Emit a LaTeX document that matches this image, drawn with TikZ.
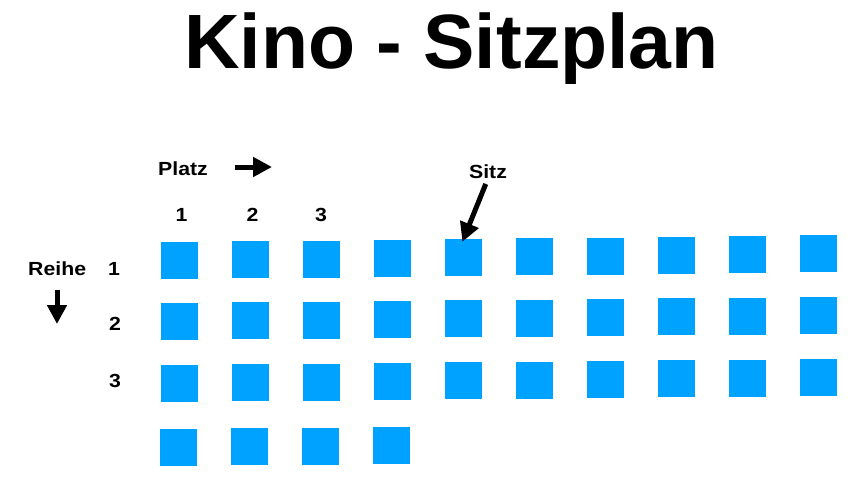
\documentclass[tikz,border=0pt]{standalone}
\usepackage{fontspec}
\setmainfont{Liberation Sans}
\newfontfamily\lblfont[FakeStretch=1.12]{Liberation Sans}
\usetikzlibrary{arrows.meta}
\definecolor{seatblue}{RGB}{0,162,255}
\tikzset{
  seat/.style={fill=seatblue, minimum size=37pt, inner sep=0pt, outer sep=0pt},
  lbl/.style={font=\lblfont\fontsize{19}{22}\selectfont\bfseries, inner sep=0pt, anchor=base},
  bigarrow/.style={line width=5pt, -{Triangle[length=19pt,width=19pt]}},
}
\begin{document}
\begin{tikzpicture}[x=1pt,y=-1pt]
\useasboundingbox (0,0) rectangle (864,498);
% title
\node[font=\fontsize{77}{90}\selectfont\bfseries, inner sep=0pt, anchor=base] (title) at (451.5,68) {Kino - Sitzplan};
% seats
\foreach \c in {1,...,10}{
  \node[seat] (s1-\c) at ({179.5+71*(\c-1)},{260.5-0.75*(\c-1)}) {};
  \node[seat] (s2-\c) at ({179+71*(\c-1)},{321.5-0.68*(\c-1)}) {};
  \node[seat] (s3-\c) at ({179.7+71*(\c-1)},{383.5-0.68*(\c-1)}) {};
}
\foreach \c in {1,...,4}{
  \node[seat] (s4-\c) at ({178.5+71*(\c-1)},{447.5-0.67*(\c-1)}) {};
}
% labels
\node[lbl, anchor=base west] (platz) at (158,175) {Platz};
\coordinate (pa1) at (235,167);
\coordinate (pa2) at (272,167);
\draw[bigarrow] (pa1) -- (pa2);
\node[lbl] (p1) at (181.5,221) {1};
\node[lbl] (p2) at (252.5,221) {2};
\node[lbl] (p3) at (321,221) {3};
\node[lbl, anchor=base west] (reihe) at (28,275) {Reihe};
\coordinate (ra1) at (57,290);
\coordinate (ra2) at (57,324);
\draw[bigarrow] (ra1) -- (ra2);
\node[lbl] (r1) at (114,275) {1};
\node[lbl] (r2) at (115,330) {2};
\node[lbl] (r3) at (115,387) {3};
\node[lbl] (sitz) at (488,178) {Sitz};
\draw[bigarrow, shorten <=6pt, shorten >=-3pt] (sitz.south) -- (s1-5.north);
\end{tikzpicture}
\end{document}
